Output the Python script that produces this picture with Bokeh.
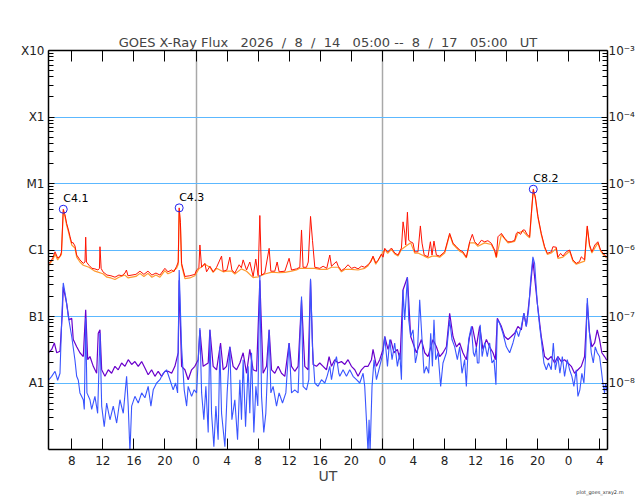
from bokeh.plotting import figure
from bokeh.models import (Range1d, FixedTicker, LinearAxis, LogAxis,
                          CustomJSTickFormatter, CustomLabelingPolicy, Title)
from bokeh.core.properties import value
from bokeh.embed import file_html
from bokeh.resources import INLINE

# time axis: hours since 2026-08-14 00:00 UT
t_start, t_end = 5.0, 77.0
hour_ticks = [8, 12, 16, 20, 24, 28, 32, 36, 40, 44, 48, 52, 56, 60, 64, 68, 72, 76]
day_lines = [24, 48]

# flux decades and their labels
decade_exp = [-3, -4, -5, -6, -7, -8]
class_labels = ["X10", "X1", "M1", "C1", "B1", "A1"]
power_labels = ["10⁻³", "10⁻⁴", "10⁻⁵", "10⁻⁶", "10⁻⁷", "10⁻⁸"]
class_lines = [1e-8, 1e-7, 1e-6, 1e-5, 1e-4]

# primary satellite, long channel (1-8 A)
long_t = [5.0, 5.32, 5.58, 5.84, 6.18, 6.48, 6.67, 6.90, 7.12, 7.34,
          7.57, 7.77, 7.99, 8.15, 8.41, 8.63, 9.05, 9.48, 9.70, 9.79,
          9.89, 10.21, 10.60, 10.98, 11.37, 11.56, 11.63, 11.78, 12.01, 12.53,
          13.04, 13.56, 14.07, 14.46, 14.85, 15.04, 15.23, 15.75, 16.26, 16.78,
          17.29, 17.81, 18.32, 18.84, 19.35, 19.99, 20.38, 20.86, 21.15, 21.50,
          21.71, 21.83, 21.99, 22.14, 22.57, 23.21, 23.85, 24.07, 24.37, 24.50,
          24.72, 25.14, 25.36, 25.79, 26.21, 26.65, 27.29, 27.50, 27.97, 28.36,
          28.62, 29.00, 29.56, 29.84, 30.07, 30.51, 30.93, 31.36, 31.70, 32.00,
          32.22, 32.44, 32.86, 33.42, 33.64, 34.15, 34.45, 34.70, 35.44, 35.99,
          36.30, 36.94, 37.37, 37.59, 37.79, 38.23, 38.46, 38.75, 39.00, 39.30,
          39.94, 40.37, 40.84, 41.23, 41.45, 42.09, 42.32, 42.73, 43.16, 43.58,
          44.02, 44.45, 44.87, 45.31, 45.73, 46.16, 46.50, 46.80, 47.15, 47.45,
          47.88, 48.09, 48.31, 48.69, 49.17, 49.60, 50.02, 50.46, 50.67, 50.88,
          51.01, 51.23, 51.40, 51.65, 51.95, 52.17, 52.59, 52.90, 53.11, 53.39,
          53.88, 54.19, 54.40, 54.65, 54.96, 55.39, 56.03, 56.67, 57.10, 57.54,
          57.96, 58.38, 58.82, 59.25, 59.59, 59.89, 60.31, 60.75, 61.17, 61.60,
          62.04, 62.46, 62.68, 62.89, 63.33, 63.75, 64.18, 64.61, 65.04, 65.26,
          65.46, 65.81, 66.11, 66.33, 66.67, 66.97, 67.19, 67.44, 67.70, 68.04,
          68.47, 68.90, 69.25, 69.76, 69.97, 70.40, 70.61, 70.96, 71.26, 71.69,
          72.12, 72.54, 72.98, 73.40, 73.62, 74.05, 74.39, 74.69, 74.99, 75.37,
          75.76, 76.11, 76.62, 76.88]
long_flux = [6.2e-7, 6.8e-7, 7.8e-7, 9.4e-7, 7.6e-7, 8.0e-7, 9.3e-7, 4.1e-6, 3.4e-6, 2.5e-6,
             2.0e-6, 1.6e-6, 1.27e-6, 1.3e-6, 1.15e-6, 8.4e-7, 7.1e-7, 6.3e-7, 6.6e-7, 1.56e-6,
             6.6e-7, 5.9e-7, 5.3e-7, 5.2e-7, 5.0e-7, 5.3e-7, 1.12e-6, 5.3e-7, 4.7e-7, 4.2e-7,
             4.1e-7, 3.9e-7, 4.2e-7, 4.1e-7, 4.5e-7, 5.0e-7, 4.1e-7, 4.2e-7, 4.3e-7, 4.8e-7,
             4.3e-7, 4.8e-7, 4.2e-7, 4.5e-7, 4.2e-7, 5.3e-7, 4.7e-7, 5.0e-7, 4.7e-7, 5.7e-7,
             6.6e-7, 4.3e-6, 2.6e-6, 6.3e-7, 4.0e-7, 4.1e-7, 4.3e-7, 5.0e-7, 5.4e-7, 1.19e-6,
             5.5e-7, 6.3e-7, 4.7e-7, 5.7e-7, 4.7e-7, 5.5e-7, 8.1e-7, 4.8e-7, 5.0e-7, 7.8e-7,
             5.0e-7, 4.5e-7, 6.0e-7, 5.4e-7, 7.1e-7, 5.0e-7, 6.6e-7, 4.0e-7, 7.3e-7, 4.1e-7,
             3.3e-6, 4.2e-7, 4.5e-7, 1.06e-6, 4.8e-7, 4.8e-7, 6.6e-7, 4.7e-7, 4.8e-7, 7.5e-7,
             5.0e-7, 5.2e-7, 5.5e-7, 2.0e-6, 5.5e-7, 5.5e-7, 6.6e-7, 3.2e-6, 1.4e-6, 5.5e-7,
             5.3e-7, 5.7e-7, 5.3e-7, 8.4e-7, 5.7e-7, 6.7e-7, 5.7e-7, 4.9e-7, 5.3e-7, 6.0e-7,
             5.3e-7, 5.5e-7, 5.2e-7, 5.7e-7, 5.5e-7, 6.0e-7, 6.6e-7, 8.1e-7, 6.4e-7, 7.0e-7,
             8.7e-7, 7.8e-7, 1.06e-6, 9.3e-7, 1.07e-6, 9.0e-7, 8.4e-7, 1.07e-6, 2.65e-6, 1.8e-6,
             1.19e-6, 3.7e-6, 1.4e-6, 1.33e-6, 1.27e-6, 9.4e-7, 9.4e-7, 2.3e-6, 1.27e-6, 8.4e-7,
             7.9e-7, 1.33e-6, 8.4e-7, 1.36e-6, 8.4e-7, 8.1e-7, 9.4e-7, 1.78e-6, 1.27e-6, 1.12e-6,
             1.0e-6, 9.4e-7, 7.8e-7, 1.33e-6, 1.72e-6, 1.33e-6, 1.19e-6, 1.4e-6, 1.33e-6, 1.38e-6,
             1.26e-6, 1.0e-6, 7.9e-7, 1.58e-6, 1.78e-6, 1.5e-6, 1.33e-6, 1.33e-6, 1.4e-6, 1.78e-6,
             1.87e-6, 1.72e-6, 2.0e-6, 2.0e-6, 1.7e-6, 1.58e-6, 3.5e-6, 8.2e-6, 6.3e-6, 3.2e-6,
             1.78e-6, 1.12e-6, 8.9e-7, 9.4e-7, 1.12e-6, 1.1e-6, 7.8e-7, 8.9e-7, 8.1e-7, 9.4e-7,
             1.0e-6, 7.1e-7, 6.3e-7, 6.7e-7, 7.9e-7, 7.1e-7, 2.3e-6, 1.19e-6, 9.4e-7, 1.19e-6,
             1.33e-6, 1.0e-6, 8.4e-7, 7.9e-7]

# secondary satellite, long channel (shows as a thin fringe under the red trace)
long2_t = [5.0, 5.58, 5.84, 6.18, 6.67, 6.90, 7.12, 7.34, 7.57, 7.77,
           7.99, 8.41, 8.63, 9.05, 9.48, 10.21, 10.98, 11.37, 12.01, 12.53,
           13.04, 13.56, 14.07, 14.85, 15.23, 15.75, 16.26, 16.78, 17.29, 17.81,
           18.32, 18.84, 19.35, 19.99, 20.38, 20.86, 21.50, 21.71, 21.83, 21.99,
           22.14, 22.57, 23.21, 23.85, 24.37, 25.14, 25.79, 26.21, 26.65, 27.50,
           27.97, 28.62, 29.00, 29.84, 30.51, 31.36, 32.00, 32.86, 33.64, 34.15,
           34.70, 35.44, 36.30, 36.94, 37.37, 38.23, 39.30, 39.94, 40.84, 41.45,
           42.32, 42.73, 43.16, 44.02, 44.87, 45.73, 46.16, 46.80, 47.15, 47.88,
           48.31, 48.69, 49.17, 49.60, 50.02, 50.46, 51.01, 51.65, 52.17, 52.59,
           53.39, 53.88, 54.40, 54.96, 55.39, 56.03, 56.67, 57.10, 57.54, 57.96,
           58.38, 58.82, 59.25, 59.89, 60.31, 61.17, 62.04, 62.46, 62.68, 63.33,
           64.18, 65.04, 65.46, 66.11, 66.67, 66.97, 67.19, 67.44, 67.70, 68.04,
           68.47, 68.90, 69.25, 69.76, 70.40, 70.61, 71.26, 72.12, 72.54, 72.98,
           73.40, 74.05, 74.39, 74.69, 74.99, 75.76, 76.11, 76.62, 76.88]
long2_flux = [5.8e-7, 7.2e-7, 8.7e-7, 7.1e-7, 8.6e-7, 3.8e-6, 3.2e-6, 2.35e-6, 1.87e-6, 1.5e-6,
              1.19e-6, 1.07e-6, 7.8e-7, 6.6e-7, 5.9e-7, 5.5e-7, 4.8e-7, 4.65e-7, 4.4e-7, 3.9e-7,
              3.8e-7, 3.6e-7, 3.9e-7, 4.2e-7, 3.8e-7, 3.9e-7, 4.0e-7, 4.45e-7, 4.0e-7, 4.45e-7,
              3.9e-7, 4.2e-7, 3.9e-7, 4.9e-7, 4.4e-7, 4.65e-7, 5.3e-7, 6.1e-7, 4.0e-6, 2.4e-6,
              5.9e-7, 3.7e-7, 3.8e-7, 4.1e-7, 5.2e-7, 6.1e-7, 5.5e-7, 4.6e-7, 5.3e-7, 4.7e-7,
              4.8e-7, 4.8e-7, 4.35e-7, 5.2e-7, 4.8e-7, 3.85e-7, 3.95e-7, 4.35e-7, 4.6e-7, 4.6e-7,
              4.55e-7, 4.6e-7, 4.8e-7, 5.0e-7, 5.3e-7, 5.3e-7, 5.3e-7, 5.1e-7, 5.1e-7, 5.5e-7,
              5.5e-7, 4.7e-7, 5.1e-7, 5.1e-7, 5.0e-7, 5.3e-7, 5.8e-7, 7.8e-7, 6.1e-7, 8.4e-7,
              1.02e-6, 8.9e-7, 1.02e-6, 8.7e-7, 8.1e-7, 1.02e-6, 1.14e-6, 1.28e-6, 9.0e-7, 9.0e-7,
              8.1e-7, 7.6e-7, 8.1e-7, 8.1e-7, 7.8e-7, 9.0e-7, 1.7e-6, 1.22e-6, 1.08e-6, 9.6e-7,
              9.0e-7, 7.6e-7, 1.28e-6, 1.28e-6, 1.14e-6, 1.28e-6, 1.21e-6, 9.6e-7, 7.6e-7, 1.7e-6,
              1.28e-6, 1.35e-6, 1.8e-6, 1.92e-6, 1.63e-6, 1.52e-6, 3.4e-6, 7.8e-6, 6.1e-6, 3.1e-6,
              1.7e-6, 1.08e-6, 8.6e-7, 9.0e-7, 1.06e-6, 7.5e-7, 7.8e-7, 9.6e-7, 6.8e-7, 6.1e-7,
              6.4e-7, 6.8e-7, 2.2e-6, 1.14e-6, 9.0e-7, 1.28e-6, 9.6e-7, 8.1e-7, 7.6e-7]

# primary satellite, short channel (0.5-4 A)
short_t = [5.00, 5.41, 5.84, 6.18, 6.48, 6.70, 6.90, 7.21, 7.55, 7.99,
           8.41, 8.63, 8.84, 9.05, 9.48, 9.61, 9.79, 9.95, 10.34, 10.56,
           10.98, 11.33, 11.63, 11.85, 12.18, 12.49, 12.92, 13.34, 13.78, 14.20,
           14.63, 15.06, 15.27, 15.49, 15.71, 16.13, 16.56, 17.00, 17.42, 17.84,
           18.19, 18.49, 18.93, 19.35, 19.77, 20.21, 20.64, 21.06, 21.37, 21.63,
           21.83, 22.14, 22.48, 22.79, 22.99, 23.43, 23.76, 24.07, 24.50, 24.72,
           25.01, 25.27, 25.57, 25.79, 26.00, 26.30, 26.56, 26.85, 27.07, 27.29,
           27.72, 28.01, 28.36, 28.62, 29.00, 29.35, 29.65, 29.86, 30.07, 30.38,
           30.71, 30.93, 31.15, 31.45, 31.71, 31.96, 32.22, 32.44, 32.73, 32.99,
           33.42, 33.64, 33.93, 34.37, 34.70, 35.14, 35.57, 35.99, 36.30, 36.72,
           37.15, 37.59, 37.79, 38.23, 38.53, 38.75, 39.00, 39.30, 39.72, 40.16,
           40.59, 40.88, 41.23, 41.45, 41.74, 42.09, 42.39, 42.52, 42.94, 43.38,
           43.80, 44.23, 44.67, 45.09, 45.52, 45.73, 45.95, 46.16, 46.29, 46.42,
           46.67, 46.93, 47.24, 47.66, 48.09, 48.31, 48.66, 48.95, 49.25, 49.59,
           49.94, 50.24, 50.46, 50.66, 50.88, 51.23, 51.40, 51.65, 51.95, 52.26,
           52.52, 52.81, 53.11, 53.37, 53.67, 53.97, 54.23, 54.45, 54.65, 54.87,
           55.17, 55.51, 55.81, 56.25, 56.67, 56.97, 57.32, 57.66, 57.96, 58.26,
           58.60, 58.82, 59.11, 59.47, 59.72, 59.89, 60.11, 60.24, 60.44, 60.60,
           60.85, 61.18, 61.52, 61.82, 62.12, 62.38, 62.63, 62.81, 63.11, 63.53,
           63.97, 64.40, 64.82, 65.26, 65.55, 65.90, 66.23, 66.54, 66.84, 67.10,
           67.39, 67.61, 67.96, 68.26, 68.47, 68.81, 69.12, 69.41, 69.76, 70.02,
           70.28, 70.61, 70.87, 71.18, 71.47, 71.82, 72.12, 72.41, 72.67, 72.98,
           73.19, 73.44, 73.70, 73.96, 74.18, 74.40, 74.60, 74.91, 75.17, 75.42,
           75.68, 75.98, 76.20, 76.40, 76.62, 76.75, 76.95]
short_flux = [1.1e-8, 1.26e-8, 1.5e-8, 1.1e-8, 1.4e-8, 8.9e-8, 3.2e-7, 2.0e-7, 1.0e-7, 5.0e-8,
              2.2e-8, 1.26e-8, 1.1e-8, 7.1e-9, 5.6e-9, 4.0e-9, 9.4e-8, 7.1e-9, 5.6e-9, 4.0e-9,
              6.3e-9, 3.5e-9, 5.6e-8, 4.5e-9, 2.2e-9, 5.0e-9, 2.8e-9, 4.5e-9, 2.5e-9, 5.6e-9,
              3.5e-9, 1.26e-8, 4.5e-9, 9e-10, 4.5e-9, 6.3e-9, 5.0e-9, 7.1e-9, 6.0e-9, 8.9e-9,
              4.5e-9, 7.9e-9, 1.0e-8, 1.12e-8, 1.4e-8, 1.58e-8, 1.12e-8, 7.9e-9, 1.0e-8, 7.1e-9,
              5.0e-7, 3.5e-8, 7.9e-9, 4.5e-9, 8.9e-9, 6.3e-9, 7.9e-9, 7.1e-9, 6.7e-8, 7.1e-9,
              2.8e-9, 8.9e-9, 1.8e-9, 6.3e-8, 3.5e-9, 1.1e-9, 4.5e-9, 1.4e-9, 3.5e-8, 3.5e-9,
              1.1e-9, 7.1e-9, 3.5e-8, 2.8e-9, 5.6e-9, 1.4e-9, 1.12e-8, 2.8e-9, 2.24e-8, 2.2e-9,
              1.78e-8, 3.5e-9, 2.85e-8, 1.8e-9, 8.9e-9, 4.5e-9, 4.2e-7, 6.3e-9, 1.8e-9, 3.5e-9,
              6.3e-8, 7.1e-9, 8.9e-9, 4.5e-9, 7.1e-9, 5.0e-9, 7.1e-9, 4.0e-8, 7.1e-9, 7.9e-9,
              7.1e-9, 2.0e-7, 8.9e-9, 7.9e-9, 1.12e-8, 3.7e-7, 3.5e-8, 1.0e-8, 8.9e-9, 1.12e-8,
              1.0e-8, 1.26e-8, 1.78e-8, 1.12e-8, 1.78e-8, 2.5e-8, 1.4e-8, 1.26e-8, 1.58e-8, 1.26e-8,
              1.58e-8, 1.26e-8, 1.12e-8, 1.0e-8, 1.4e-8, 8.9e-9, 2.8e-9, 9e-10, 2.8e-9, 9e-10,
              8.9e-9, 2.24e-8, 1.12e-8, 1.78e-8, 2.85e-8, 5.0e-8, 1.78e-8, 4.5e-8, 2.24e-8, 4.0e-8,
              1.78e-8, 2.85e-8, 1.12e-8, 2.5e-7, 8.9e-8, 3.9e-7, 8.9e-8, 5.0e-8, 6.3e-8, 2.0e-8,
              2.85e-8, 1.78e-7, 4.5e-8, 1.4e-8, 1.78e-8, 1.4e-8, 5.6e-8, 1.78e-8, 8.9e-8, 2.24e-8,
              2.85e-8, 8.9e-9, 2.0e-8, 2.85e-8, 8.9e-8, 4.5e-8, 3.5e-8, 2.24e-8, 3.5e-8, 1.4e-8,
              2.24e-8, 8.9e-9, 4.5e-8, 7.1e-8, 2.85e-8, 2.5e-8, 3.5e-8, 2.0e-8, 2.0e-8, 7.5e-8,
              2.5e-8, 4.0e-8, 2.5e-8, 4.0e-8, 2.0e-8, 2.24e-8, 9.4e-9, 8.9e-8, 7.9e-8, 5.6e-8,
              3.5e-8, 2.85e-8, 4.0e-8, 6.3e-8, 5.0e-8, 7.1e-8, 1.12e-7, 7.1e-8, 1.26e-7, 3.5e-7,
              7.9e-7, 6.3e-7, 1.58e-7, 7.1e-8, 4.5e-8, 2.0e-8, 1.58e-8, 2.0e-8, 1.58e-8, 4.0e-8,
              1.58e-8, 2.5e-8, 1.4e-8, 2.5e-8, 1.26e-8, 2.24e-8, 1.58e-8, 1.26e-8, 8.9e-9, 1.58e-8,
              6.3e-9, 7.9e-9, 1.4e-8, 1.0e-8, 2.5e-8, 1.9e-7, 7.1e-8, 2.85e-8, 2.0e-8, 3.5e-8,
              2.85e-8, 2.5e-8, 1.58e-8, 1.0e-8, 7.1e-9, 1.0e-8, 7.5e-9]

# secondary satellite, short channel
short2_t = [5.00, 5.41, 5.75, 6.06, 6.48, 6.78, 6.90, 7.34, 7.64, 7.99,
            8.19, 8.63, 9.05, 9.48, 9.79, 10.05, 10.34, 10.77, 11.20, 11.41,
            11.63, 11.85, 12.27, 12.70, 13.13, 13.56, 13.98, 14.42, 14.85, 15.27,
            15.71, 16.13, 16.56, 17.00, 17.42, 17.84, 18.28, 18.71, 19.13, 19.57,
            19.99, 20.42, 20.86, 21.28, 21.71, 21.83, 22.14, 22.57, 22.99, 23.43,
            23.85, 24.28, 24.50, 24.92, 25.57, 25.79, 26.21, 26.65, 27.16, 27.50,
            27.93, 28.36, 28.78, 29.22, 29.65, 30.07, 30.51, 30.93, 31.36, 31.80,
            32.22, 32.64, 33.08, 33.42, 33.73, 34.15, 34.58, 35.01, 35.44, 35.99,
            36.30, 36.72, 37.15, 37.59, 38.01, 38.44, 38.75, 39.08, 39.52, 39.94,
            40.37, 40.80, 41.14, 41.45, 41.87, 42.30, 42.73, 43.16, 43.58, 44.02,
            44.45, 44.87, 45.31, 45.73, 46.16, 46.60, 46.80, 47.24, 47.66, 48.09,
            48.31, 48.73, 49.08, 49.50, 49.94, 50.28, 50.66, 51.23, 51.65, 52.39,
            53.03, 53.46, 53.88, 54.52, 54.96, 55.39, 55.81, 56.25, 56.67, 57.10,
            57.54, 57.96, 58.38, 58.82, 59.24, 59.59, 60.11, 60.53, 60.96, 61.40,
            61.82, 62.25, 62.56, 62.81, 63.33, 63.75, 64.18, 64.61, 65.04, 65.46,
            65.90, 66.23, 66.54, 66.97, 67.39, 67.96, 68.47, 68.90, 69.33, 69.76,
            70.19, 70.61, 71.05, 71.47, 71.90, 72.34, 72.76, 73.19, 73.62, 74.05,
            74.40, 74.69, 74.99, 75.34, 75.68, 75.98, 76.27, 76.62, 76.90]
short2_flux = [2.85e-8, 3.2e-8, 4.0e-8, 2.85e-8, 3.0e-8, 1.12e-7, 2.8e-7, 1.58e-7, 8.9e-8, 9.4e-8,
               4.5e-8, 3.5e-8, 2.85e-8, 2.5e-8, 1.26e-7, 2.24e-8, 2.5e-8, 1.78e-8, 1.4e-8, 5.6e-8,
               6.3e-8, 1.58e-8, 1.26e-8, 1.58e-8, 1.4e-8, 1.78e-8, 1.58e-8, 2.0e-8, 1.78e-8, 2.24e-8,
               1.9e-8, 2.1e-8, 1.78e-8, 2.1e-8, 1.68e-8, 1.33e-8, 1.58e-8, 1.26e-8, 1.5e-8, 1.26e-8,
               1.5e-8, 1.5e-8, 1.4e-8, 1.78e-8, 2.85e-8, 3.5e-7, 1.78e-8, 1.58e-8, 1.12e-8, 1.58e-8,
               1.78e-8, 2.24e-8, 6.3e-8, 1.78e-8, 2.0e-8, 6.3e-8, 1.78e-8, 1.58e-8, 4.0e-8, 1.58e-8,
               1.78e-8, 3.5e-8, 1.78e-8, 1.58e-8, 2.0e-8, 2.85e-8, 1.4e-8, 3.2e-8, 1.58e-8, 1.5e-8,
               3.5e-7, 1.4e-8, 1.78e-8, 6.3e-8, 1.58e-8, 1.4e-8, 1.78e-8, 1.4e-8, 1.26e-8, 4.0e-8,
               1.78e-8, 1.5e-8, 1.78e-8, 1.78e-7, 1.78e-8, 1.58e-8, 3.5e-7, 1.9e-8, 1.78e-8, 2.0e-8,
               1.78e-8, 1.58e-8, 2.5e-8, 1.78e-8, 2.24e-8, 2.0e-8, 2.1e-8, 1.9e-8, 2.24e-8, 1.78e-8,
               1.58e-8, 1.26e-8, 1.58e-8, 1.78e-8, 1.78e-8, 2.24e-8, 3.2e-8, 1.78e-8, 2.24e-8, 3.2e-8,
               5.0e-8, 3.2e-8, 4.5e-8, 2.85e-8, 3.2e-8, 2.24e-8, 2.5e-7, 3.9e-7, 5.0e-8, 2.85e-8,
               4.5e-8, 2.85e-8, 2.5e-8, 4.5e-8, 3.5e-8, 2.5e-8, 2.85e-8, 3.5e-8, 1.12e-7, 5.0e-8,
               3.5e-8, 4.0e-8, 2.85e-8, 2.24e-8, 5.0e-8, 7.1e-8, 3.5e-8, 7.1e-8, 3.2e-8, 4.5e-8,
               3.5e-8, 2.85e-8, 2.24e-8, 9.4e-8, 7.1e-8, 5.0e-8, 4.5e-8, 5.0e-8, 5.6e-8, 7.1e-8,
               6.3e-8, 1.12e-7, 7.1e-8, 2.0e-7, 7.0e-7, 1.58e-7, 5.0e-8, 2.5e-8, 2.24e-8, 2.5e-8,
               2.0e-8, 2.5e-8, 2.1e-8, 2.24e-8, 2.0e-8, 1.78e-8, 1.4e-8, 1.58e-8, 1.78e-8, 2.5e-8,
               1.58e-7, 5.6e-8, 3.5e-8, 4.0e-8, 6.3e-8, 4.5e-8, 2.85e-8, 2.5e-8, 2.2e-8]

# flare peaks
flare_t = [6.90, 21.83, 67.44]
flare_flux = [4.1e-6, 4.3e-6, 8.2e-6]
flare_class = ["C4.1", "C4.3", "C8.2"]

FONT = "DejaVu Sans"
NB = "\u00a0"  # keeps the wide gaps of the original title
title = ("GOES X-Ray Flux " + NB + " 2026 " + NB + "/ " + NB + "8 " + NB + "/ " + NB
         + "14 " + NB + " 05:00 -- " + NB + "8 " + NB + "/ " + NB + "17 " + NB
         + " 05:00 " + NB + " UT")

p = figure(width=640, height=500, output_backend="svg", toolbar_location=None,
           y_axis_type="log", x_range=Range1d(t_start, t_end),
           y_range=Range1d(1e-9, 1e-3),
           min_border_left=48, min_border_right=33,
           min_border_top=50, min_border_bottom=51)
p.background_fill_color = "white"
p.outline_line_color = None

p.title.text = title
p.title.align = "center"
p.title.text_font = FONT
p.title.text_font_size = "13px"
p.title.text_font_style = "normal"
p.title.standoff = 2

hour_ticker = FixedTicker(ticks=hour_ticks, minor_ticks=[])
hour_fmt = CustomJSTickFormatter(code="return String(tick % 24);")

decades = [10.0 ** e for e in decade_exp]
minors = [m * 10.0 ** e for e in range(-9, -3) for m in range(2, 10)]
flux_ticker = FixedTicker(ticks=decades, minor_ticks=minors)

fmt_code = """
const e = Math.round(Math.log10(tick));
const i = exps.indexOf(e);
return i < 0 ? "" : labels[i];
"""
class_fmt = CustomJSTickFormatter(args=dict(exps=decade_exp, labels=class_labels), code=fmt_code)
power_fmt = CustomJSTickFormatter(args=dict(exps=decade_exp, labels=power_labels), code=fmt_code)


def style_axis(ax, tick_len, minor_len):
    ax.axis_line_color = "black"
    ax.axis_line_width = 1.5
    ax.major_tick_line_color = "black"
    ax.minor_tick_line_color = "black"
    ax.major_tick_in = tick_len
    ax.major_tick_out = 0
    ax.minor_tick_in = minor_len
    ax.minor_tick_out = 0
    ax.major_label_text_font = FONT
    ax.major_label_text_font_size = "12px"
    ax.major_label_text_color = "#222222"


bottom = p.below[0]
bottom.ticker = hour_ticker
bottom.formatter = hour_fmt
style_axis(bottom, 11, 0)
bottom.major_label_standoff = 6
bottom.axis_label = "UT"
bottom.axis_label_text_font = FONT
bottom.axis_label_text_font_size = "14px"
bottom.axis_label_text_font_style = "normal"
bottom.axis_label_standoff = 0

# top frame edge: ticks only, no labels drawn and no room kept for them
top = LinearAxis(ticker=hour_ticker, formatter=hour_fmt,
                 major_label_policy=CustomLabelingPolicy(
                     code="for (const i of indices) indices.unset(i)"))
style_axis(top, 11, 0)
top.major_label_text_font_size = "0px"
top.major_label_standoff = 0
p.add_layout(top, "above")

left = p.left[0]
left.ticker = flux_ticker
left.formatter = class_fmt
style_axis(left, 6, 5)
left.major_label_standoff = 4

right = LogAxis(ticker=flux_ticker, formatter=power_fmt)
style_axis(right, 6, 5)
right.major_label_standoff = 1
p.add_layout(right, "right")

p.xgrid.ticker = FixedTicker(ticks=day_lines, minor_ticks=[])
p.xgrid.grid_line_color = "#A8A8A8"
p.xgrid.grid_line_width = 1.5
p.ygrid.ticker = FixedTicker(ticks=class_lines, minor_ticks=[])
p.ygrid.grid_line_color = "#5CB8FF"
p.ygrid.grid_line_width = 1.0

p.line(long2_t, long2_flux, line_color="#FF9A30", line_width=1.2)
p.line(long_t, long_flux, line_color="#FF1200", line_width=1.0)
p.line(short2_t, short2_flux, line_color="#6A00CC", line_width=1.2)
p.line(short_t, short_flux, line_color="#3A55FF", line_width=1.1)

p.scatter(flare_t, flare_flux, marker="circle", size=8, fill_color=None,
          line_color="#2020F0", line_width=1)
p.text(flare_t, flare_flux, text=flare_class, text_font=value(FONT),
       text_font_size="11px", text_baseline="bottom", text_color="black",
       y_offset=-4)

p.add_layout(Title(text="plot_goes_xray2.m", align="right", offset=-16, standoff=0,
                   text_font=FONT, text_font_size="5px", text_font_style="normal",
                   text_color="#333333"), "below")

open("out.html", "w").write(file_html(p, INLINE))
